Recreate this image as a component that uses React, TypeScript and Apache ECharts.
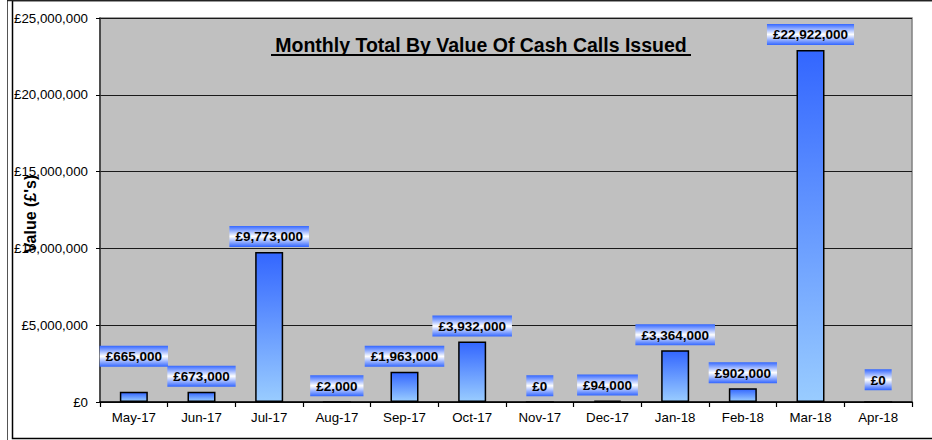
import React, { useEffect, useRef } from "react";
import * as echarts from "echarts";

const months = ["May-17", "Jun-17", "Jul-17", "Aug-17", "Sep-17", "Oct-17", "Nov-17", "Dec-17", "Jan-18", "Feb-18", "Mar-18", "Apr-18"];
const values = [665000, 673000, 9773000, 2000, 1963000, 3932000, 0, 94000, 3364000, 902000, 22922000, 0];
const titleText = "Monthly Total By Value Of Cash Calls Issued";
const yAxisTitle = "Value (£'s)";
const yMin = 0;
const yMax = 25000000;
const yStep = 5000000;

const FONT = "'Liberation Sans', Arial, sans-serif";
const money = (v: number) => "£" + Math.round(v).toLocaleString("en-GB");

// extra lift for a few labels that sit higher in the reference
const extraLift: Record<string, number> = { "May-17": 20, "Apr-18": 6 };

export default function App() {
  const ref = useRef<HTMLDivElement>(null);
  useEffect(() => {
    document.body.style.margin = "0";
    const chart = echarts.init(ref.current!, null, { renderer: "svg" });
    const barGrad = new echarts.graphic.LinearGradient(0, 0, 0, 1, [
      { offset: 0, color: "#3366ff" },
      { offset: 1, color: "#99ccff" },
    ]);
    const labelGrad = new echarts.graphic.LinearGradient(0, 0, 0, 1, [
      { offset: 0, color: "#3366ff" },
      { offset: 0.5, color: "#ffffff" },
      { offset: 1, color: "#3366ff" },
    ]);
    const data = values.map((v, i) => ({
      value: v,
      label: { offset: [0, -(extraLift[months[i]] || 0)] },
    }));
    chart.setOption({
      animation: false,
      backgroundColor: "#ffffff",
      grid: {
        left: 100,
        top: 18,
        right: 20,
        bottom: 38,
        containLabel: false,
        outerBoundsMode: "none",
        show: true,
        backgroundColor: "#c0c0c0",
        borderColor: "#808080",
        borderWidth: 1.5,
      },
      xAxis: {
        type: "category",
        data: months,
        axisLine: { show: true, lineStyle: { color: "#000", width: 1.5 } },
        axisTick: { show: true, length: 5, lineStyle: { color: "#000", width: 1.2 } },
        axisLabel: { color: "#000", fontSize: 13.3, fontFamily: FONT, margin: 9 },
      },
      yAxis: {
        type: "value",
        min: yMin,
        max: yMax,
        interval: yStep,
        axisLine: { show: true, lineStyle: { color: "#333", width: 1.5 } },
        axisTick: { show: true, length: 4, lineStyle: { color: "#000" } },
        axisLabel: { color: "#000", fontSize: 13.3, fontFamily: FONT, margin: 12, formatter: (v: number) => money(v) },
        splitLine: { show: true, lineStyle: { color: "#1a1a1a", width: 1.2 } },
      },
      series: [
        {
          type: "bar",
          data,
          barWidth: 28,
          itemStyle: { color: barGrad, borderColor: "#000", borderWidth: 1.5 },
          label: {
            show: true,
            position: "top",
            distance: 5,
            formatter: (p: any) => money(p.value),
            color: "#000",
            fontSize: 13.5,
            fontWeight: "bold",
            fontFamily: FONT,
            backgroundColor: labelGrad,
            padding: [4, 6, 3, 6],
          },
        },
      ],
      graphic: [
        {
          type: "line",
          silent: true,
          shape: { x1: 7.5, y1: 0, x2: 7.5, y2: 440 },
          style: { stroke: "#555", lineWidth: 1 },
        },
        {
          type: "rect",
          silent: true,
          shape: { x: 12.5, y: 0.5, width: 940, height: 438 },
          style: { fill: "none", stroke: "#000", lineWidth: 1.5 },
        },
        {
          type: "line",
          silent: true,
          shape: { x1: 7, y1: 0.5, x2: 932, y2: 0.5 },
          style: { stroke: "#222", lineWidth: 1.5 },
        },
        {
          type: "text",
          silent: true,
          x: 30,
          y: 214,
          rotation: Math.PI / 2,
          z: 100,
          style: {
            text: yAxisTitle,
            fill: "#000",
            font: `bold 16px ${FONT}`,
            align: "center",
            verticalAlign: "middle",
          },
        },
        {
          type: "text",
          silent: true,
          x: 481,
          y: 45,
          style: {
            text: titleText,
            fill: "#000",
            font: `bold 19.5px ${FONT}`,
            align: "center",
            verticalAlign: "middle",
          },
        },
        {
          type: "line",
          silent: true,
          shape: { x1: 271, y1: 55, x2: 691, y2: 55 },
          style: { stroke: "#000", lineWidth: 2 },
        },
      ],
    });
    return () => chart.dispose();
  }, []);
  return <div ref={ref} style={{ width: 932, height: 440 }} />;
}
